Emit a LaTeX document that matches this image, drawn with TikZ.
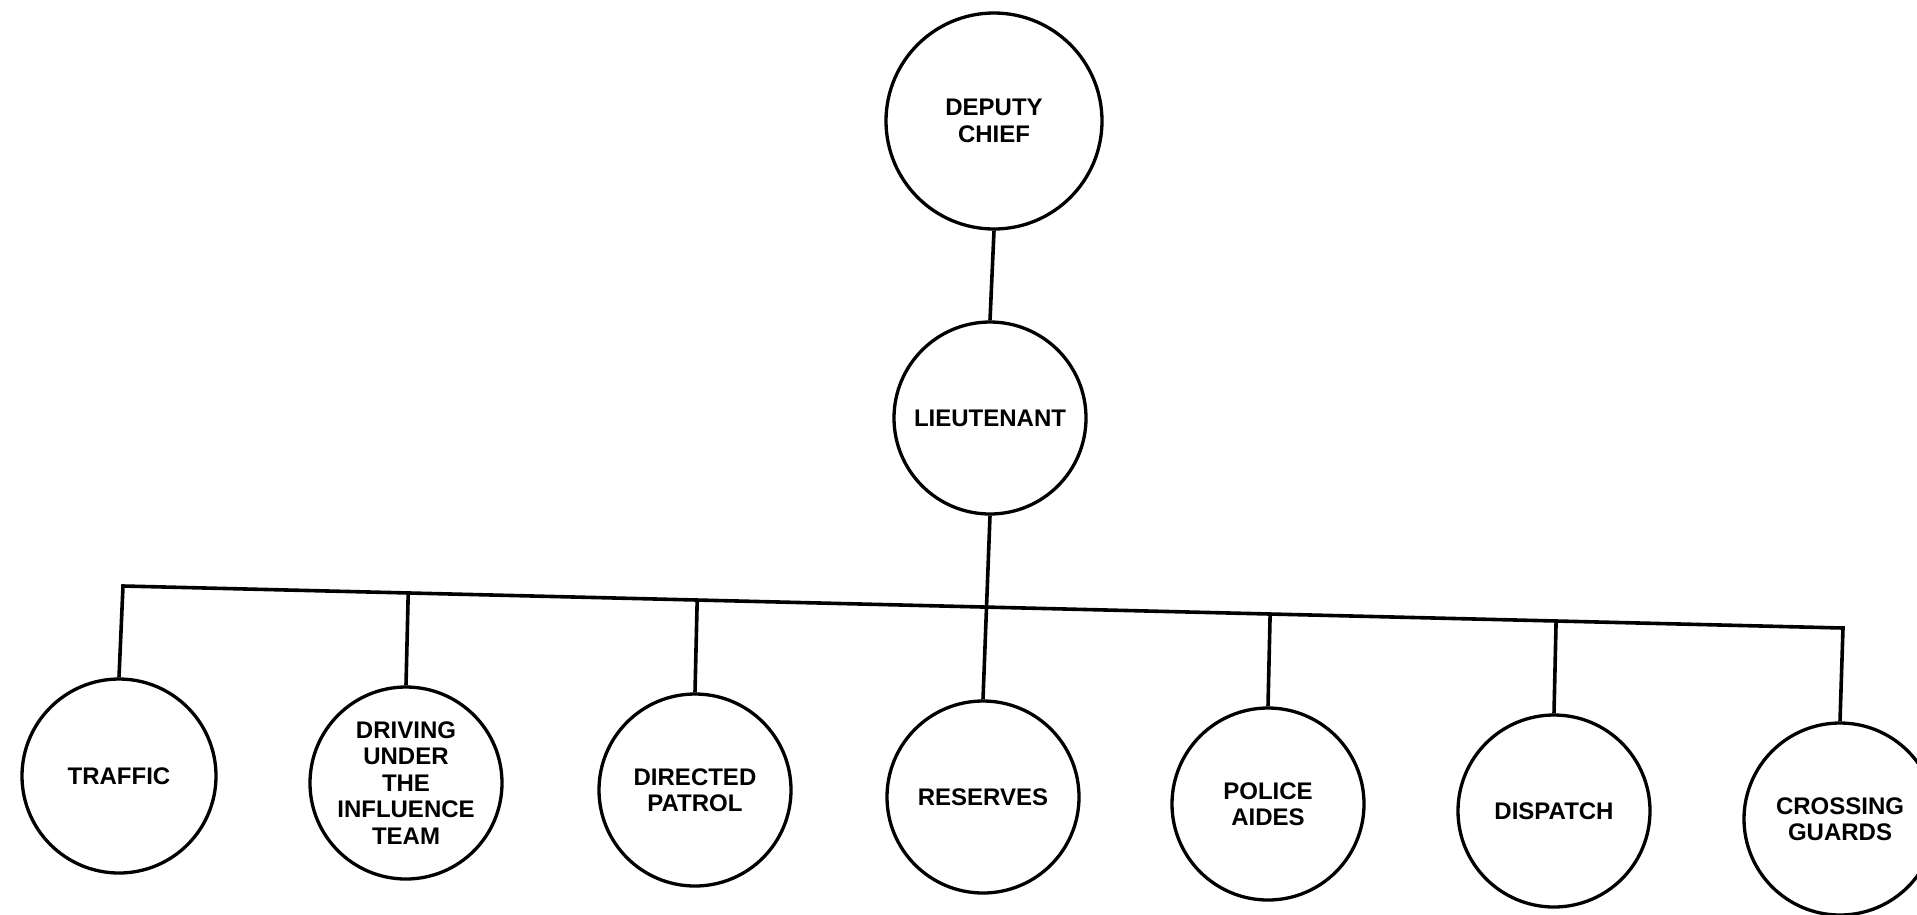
\documentclass[tikz,border=0pt]{standalone}
\usepackage{fontspec}
\setmainfont{Liberation Sans}
\usetikzlibrary{calc}
\tikzset{
  unit/.style={circle, draw, line width=3.3pt, inner sep=0pt, minimum size=#1,
    align=center, font=\fontsize{24}{26.5}\selectfont\bfseries},
  unit/.default=192pt,
  link/.style={line width=3.6pt, line cap=butt, line join=miter}
}
\begin{document}
\begin{tikzpicture}[x=1pt,y=-1pt]
  \useasboundingbox[fill=white] (0,0) rectangle (1917,914);

  % command chain
  \node[unit=216pt] (deputy) at (994,121) {DEPUTY\\CHIEF};
  \node[unit] (lieut) at (990,418) {LIEUTENANT};

  % units
  \node[unit=194pt] (traffic) at (119,776) {TRAFFIC};
  \node[unit] (dui) at (406,783) {DRIVING\\UNDER\\THE\\INFLUENCE\\TEAM};
  \node[unit] (patrol) at (695,790) {DIRECTED\\PATROL};
  \node[unit] (reserves) at (983,797) {RESERVES};
  \node[unit] (aides) at (1268,804) {POLICE\\AIDES};
  \node[unit] (dispatch) at (1554,811) {DISPATCH};
  \node[unit] (guards) at (1840,819) {CROSSING\\GUARDS};

  % distribution bar
  \coordinate (barL) at (123,586);
  \coordinate (barR) at (1843,628);

  \draw[link] (deputy.south) -- (lieut.north);
  \draw[link] (lieut.south) -- (reserves.north);
  \draw[link] (traffic.north) -- (barL) -- (barR) -- (guards.north);
  \foreach \u in {dui, patrol, aides, dispatch}
    \draw[link] ($(barL)!(\u.north)!(barR)$) -- (\u.north);
\end{tikzpicture}
\end{document}
